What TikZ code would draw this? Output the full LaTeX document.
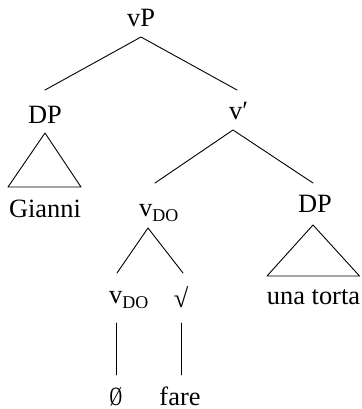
\documentclass[tikz,border=0pt]{standalone}
\usepackage{fontspec}
\setmainfont{Liberation Serif}
\newcommand{\subDO}{\raisebox{-5pt}{\fontsize{18}{18}\selectfont DO}}
\begin{document}
\begin{tikzpicture}[x=1pt,y=-1pt,
  lbl/.style={inner sep=0pt,font=\fontsize{26.4}{28}\selectfont},
  edge/.style={line width=0.9pt,line cap=round,line join=round}]
\useasboundingbox (0,0) rectangle (361,409);

% labels
\node[lbl,anchor=base] (vP) at (141,27) {vP};
\node[lbl,anchor=base] (dp1) at (45,123) {DP};
\node[lbl,anchor=base west] (vbar) at (229,120) {v′};
\node[lbl,anchor=base] (gianni) at (45,217) {Gianni};
\node[lbl,anchor=base west] (vdo) at (139,216) {v\subDO};
\node[lbl,anchor=base] (dp2) at (315,212) {DP};
\node[lbl,anchor=base] (torta) at (313.5,304.5) {una torta};
\node[lbl,anchor=base west] (vdo2) at (109,303) {v\subDO};
\node[lbl,anchor=base] (root) at (181,307) {\textbf{√}};
\node[lbl,anchor=base] (empty) at (116,405) {\scalebox{0.66}[1]{Ø}};
\node[lbl,anchor=base] (fare) at (180,405) {fare};

% branch points
\coordinate (vP-b) at (141,37);
\coordinate (dp1-t) at (45,90);
\coordinate (vbar-t) at (237,90);
\coordinate (vbar-b) at (233,130);
\coordinate (vdo-t) at (155,183);
\coordinate (dp2-t) at (313,183);
\coordinate (vdo-b) at (148,228);
\coordinate (vdo2-t) at (117,273);
\coordinate (root-t) at (183,273);
\coordinate (vdo2-b) at (116,323);
\coordinate (empty-t) at (116,375);
\coordinate (root-b) at (181,323);
\coordinate (fare-t) at (181,375);

% branches
\draw[edge] (dp1-t) -- (vP-b) -- (vbar-t);
\draw[edge] (vdo-t) -- (vbar-b) -- (dp2-t);
\draw[edge] (vdo2-t) -- (vdo-b) -- (root-t);
\draw[edge] (vdo2-b) -- (empty-t);
\draw[edge] (root-b) -- (fare-t);

% roofs over unanalysed phrases
\draw[edge] (45,133) -- (8,187) -- (81,187) -- cycle;
\draw[edge] (313,225) -- (267,276) -- (359.5,276) -- cycle;
\end{tikzpicture}
\end{document}
